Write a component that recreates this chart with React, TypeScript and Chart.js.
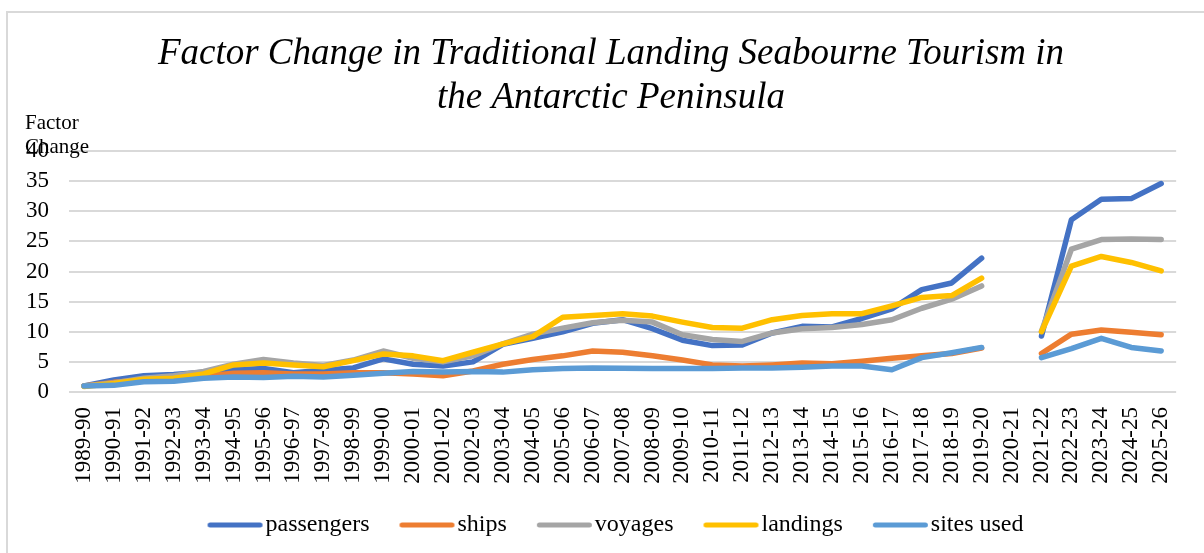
import React, { useEffect, useRef } from "react";
import { Chart, registerables } from "chart.js";

Chart.register(...registerables);

const categories = [
  "1989-90", "1990-91", "1991-92", "1992-93", "1993-94", "1994-95", "1995-96", "1996-97",
  "1997-98", "1998-99", "1999-00", "2000-01", "2001-02", "2002-03", "2003-04", "2004-05",
  "2005-06", "2006-07", "2007-08", "2008-09", "2009-10", "2010-11", "2011-12", "2012-13",
  "2013-14", "2014-15", "2015-16", "2016-17", "2017-18", "2018-19", "2019-20", "2020-21",
  "2021-22", "2022-23", "2023-24", "2024-25", "2025-26",
];

const passengers = [
  1.0, 2.0, 2.7, 2.9, 3.3, 3.7, 3.9, 3.2, 3.6, 4.0, 5.5, 4.6, 4.3, 5.0, 7.9, 8.9,
  10.0, 11.4, 12.0, 10.5, 8.6, 7.7, 7.8, 9.8, 10.9, 10.8, 12.2, 13.8, 17.0, 18.1, 22.2, null,
  9.3, 28.6, 32.0, 32.1, 34.6,
];

const ships = [
  1.0, 1.6, 2.0, 2.2, 2.6, 3.1, 3.2, 3.0, 3.0, 3.2, 3.2, 3.0, 2.7, 3.5, 4.6, 5.4,
  6.0, 6.8, 6.6, 6.0, 5.3, 4.5, 4.3, 4.5, 4.8, 4.7, 5.1, 5.6, 6.0, 6.4, 7.3, null,
  6.4, 9.6, 10.3, 9.9, 9.5,
];

const voyages = [
  1.0, 1.5, 2.3, 2.7, 3.4, 4.6, 5.4, 4.8, 4.4, 5.3, 6.8, 5.6, 5.0, 6.0, 8.0, 9.6,
  10.6, 11.5, 11.9, 11.6, 9.5, 8.7, 8.4, 9.8, 10.5, 10.7, 11.2, 12.0, 13.9, 15.4, 17.6, null,
  10.1, 23.7, 25.3, 25.4, 25.3,
];

const landings = [
  0.9, 1.4, 2.1, 2.3, 3.0, 4.5, 4.8, 4.5, 4.2, 5.2, 6.3, 6.0, 5.2, 6.6, 8.0, 9.2,
  12.4, 12.7, 13.0, 12.6, 11.6, 10.7, 10.6, 12.0, 12.7, 13.0, 13.0, 14.3, 15.7, 16.0, 18.9, null,
  10.0, 20.9, 22.5, 21.5, 20.1,
];

const sitesUsed = [
  1.0, 1.1, 1.7, 1.8, 2.3, 2.5, 2.4, 2.6, 2.5, 2.8, 3.1, 3.4, 3.3, 3.4, 3.3, 3.7,
  3.9, 4.0, 3.95, 3.9, 3.9, 3.9, 4.0, 4.0, 4.1, 4.3, 4.3, 3.7, 5.7, 6.5, 7.4, null,
  5.7, 7.2, 8.9, 7.4, 6.8,
];

const yTicks = [0, 5, 10, 15, 20, 25, 30, 35, 40];

const titleLines = [
  "Factor Change in Traditional Landing Seabourne Tourism in",
  "the Antarctic Peninsula",
];

const SERIF = "'Liberation Serif', 'Times New Roman', Times, serif";

export default function App() {
  const ref = useRef<HTMLCanvasElement | null>(null);

  useEffect(() => {
    document.body.style.margin = "0";
    const canvas = ref.current;
    if (!canvas) return;

    const colors = ["#4472C4", "#ED7D31", "#A5A5A5", "#FFC000", "#5B9BD5"];

    const makeSwatch = (color: string) => {
      const c = document.createElement("canvas");
      c.width = 60;
      c.height = 8;
      const g = c.getContext("2d")!;
      g.strokeStyle = color;
      g.lineWidth = 5;
      g.lineCap = "round";
      g.beginPath();
      g.moveTo(6.5, 4);
      g.lineTo(56.5, 4);
      g.stroke();
      return c;
    };
    const swatches = colors.map(makeSwatch);

    const mk = (label: string, data: (number | null)[], color: string, order: number) => ({
      label,
      data,
      borderColor: color,
      backgroundColor: color,
      borderWidth: 5.5,
      pointRadius: 0,
      pointHoverRadius: 0,
      tension: 0,
      borderCapStyle: "round" as const,
      borderJoinStyle: "round" as const,
      spanGaps: false,
      order,
    });

    const framePlugin = {
      id: "frame",
      beforeDraw(chart: any) {
        const c = chart.ctx;
        c.save();
        c.fillStyle = "#ffffff";
        c.fillRect(0, 0, chart.width, chart.height);
        c.strokeStyle = "#D9D9D9";
        c.lineWidth = 2;
        c.strokeRect(7, 12, chart.width + 40, chart.height + 40);
        c.restore();
      },
      afterLayout(chart: any) {
        // centre title and legend the way the reference does
        if (chart.titleBlock) chart.titleBlock.left += 35;
        if (chart.legend) {
          chart.legend.left += 50;
          chart.legend.top -= 6;
        }
      },
    };

    const yTitlePlugin = {
      id: "ytitle",
      afterDraw(chart: any) {
        const c = chart.ctx;
        c.save();
        c.fillStyle = "#000";
        c.font = `21px ${SERIF}`;
        c.textAlign = "left";
        c.textBaseline = "alphabetic";
        c.fillText("Factor", 25, 129);
        c.fillText("Change", 25, 152.5);
        c.restore();
      },
    };

    const defaultLabels = (Chart.defaults as any).plugins.legend.labels.generateLabels;

    const chart = new Chart(canvas, {
      type: "line",
      data: {
        labels: categories,
        datasets: [
          mk("passengers", passengers, colors[0], 4),
          mk("ships", ships, colors[1], 3),
          mk("voyages", voyages, colors[2], 2),
          mk("landings", landings, colors[3], 1),
          mk("sites used", sitesUsed, colors[4], 0),
        ],
      },
      options: {
        animation: false,
        responsive: false,
        events: [],
        layout: { padding: { left: 0, right: 17, top: 0, bottom: 0 } },
        plugins: {
          title: {
            display: true,
            text: titleLines,
            color: "#000",
            font: { family: SERIF, size: 37, style: "italic", weight: "normal", lineHeight: 44 / 37 },
            padding: { top: 32, bottom: 31 },
          },
          legend: {
            display: true,
            position: "bottom",
            labels: {
              usePointStyle: true,
              pointStyleWidth: 40,
              padding: 36,
              color: "#000",
              font: { family: SERIF, size: 24 },
              generateLabels: (chart: any) =>
                defaultLabels(chart)
                  .sort((a: any, b: any) => a.datasetIndex - b.datasetIndex)
                  .map((item: any) => ({ ...item, pointStyle: swatches[item.datasetIndex] })),
            },
          },
          tooltip: { enabled: false },
        },
        scales: {
          x: {
            type: "category",
            offset: true,
            grid: { display: false, drawTicks: false },
            border: { display: false },
            ticks: {
              autoSkip: false,
              minRotation: 90,
              maxRotation: 90,
              padding: 15,
              color: "#000",
              font: { family: SERIF, size: 23 },
            },
            afterFit(scale: any) {
              scale.height = 91;
            },
          },
          y: {
            min: 0,
            max: 40,
            afterBuildTicks(scale: any) {
              scale.ticks = yTicks.map((v) => ({ value: v }));
            },
            grid: { color: "#D9D9D9", lineWidth: 2, drawTicks: false },
            border: { display: false },
            ticks: {
              autoSkip: false,
              padding: 20,
              color: "#000",
              font: { family: SERIF, size: 23 },
            },
            afterFit(scale: any) {
              scale.width = 69;
            },
          },
        },
      },
      plugins: [framePlugin, yTitlePlugin],
    } as any);

    return () => chart.destroy();
  }, []);

  return (
    <div style={{ width: 1204, height: 553 }}>
      <canvas ref={ref} width={1204} height={553} style={{ display: "block" }} />
    </div>
  );
}
